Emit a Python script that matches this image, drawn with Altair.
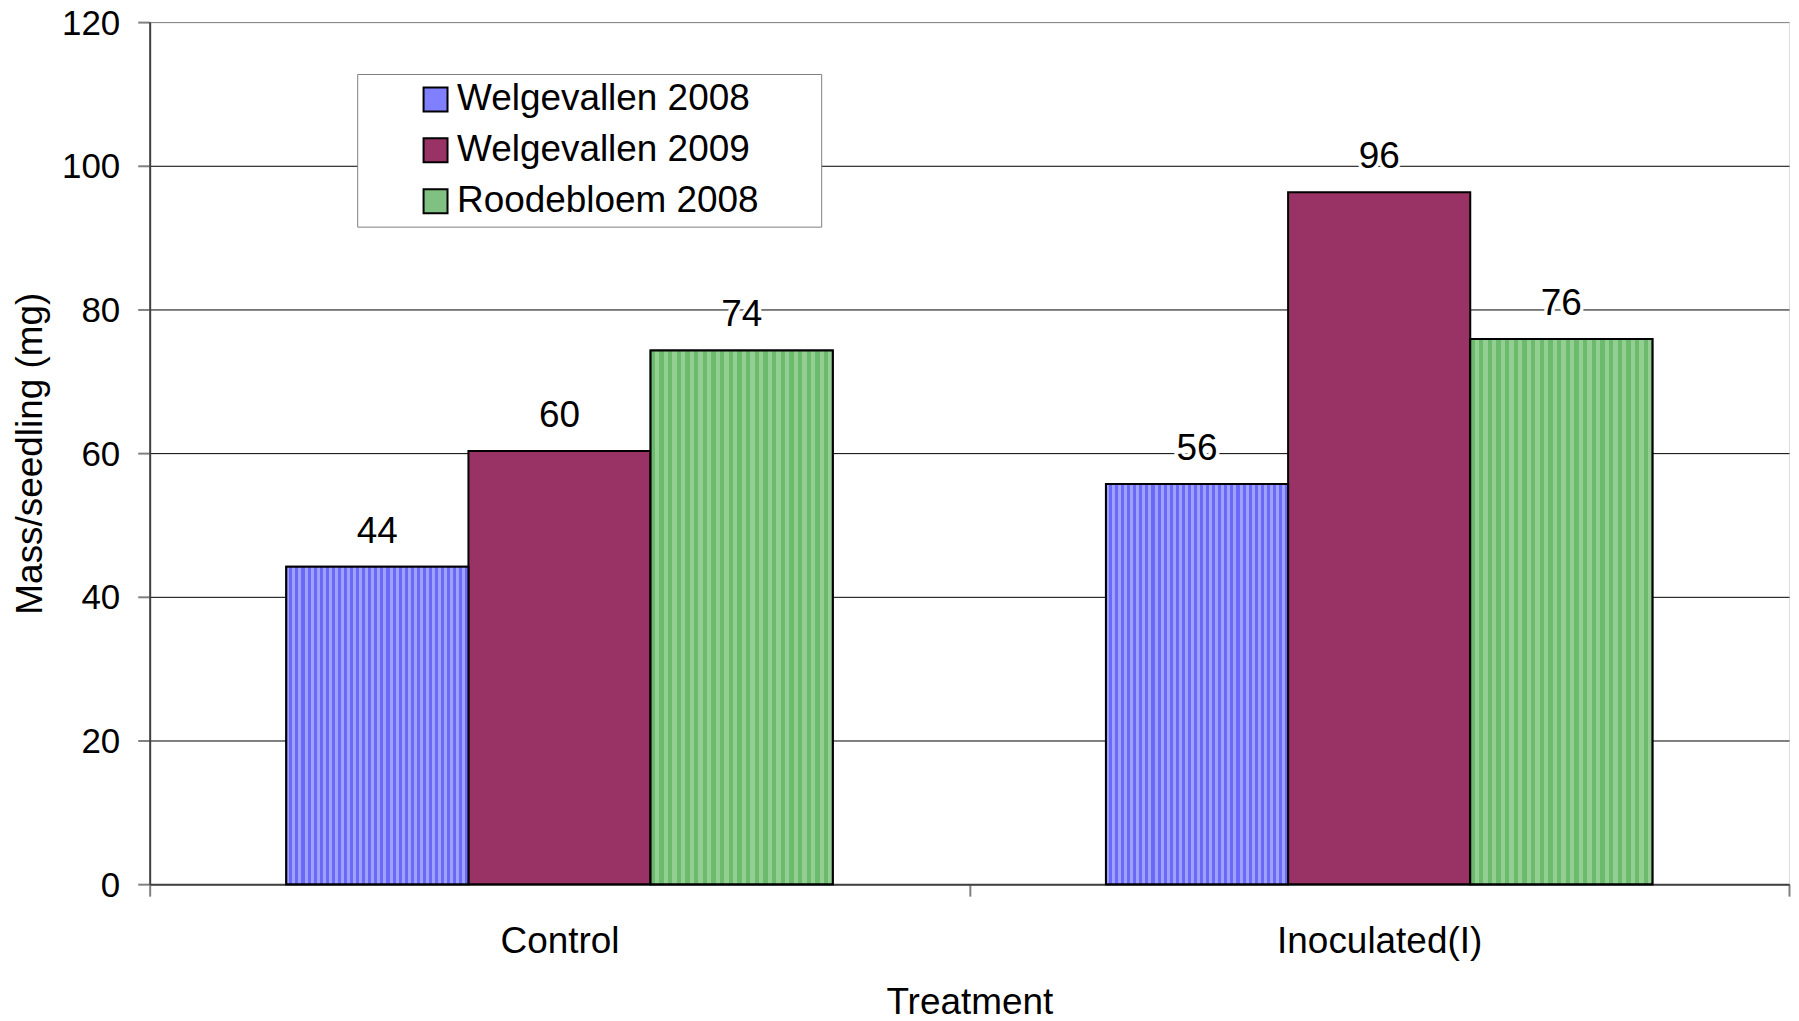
import altair as alt
import pandas as pd

treatments = ["Control", "Inoculated(I)"]
series = ["Welgevallen 2008", "Welgevallen 2009", "Roodebloem 2008"]
control_values = [44.2, 60.3, 74.3]
inoculated_values = [55.7, 96.3, 75.9]
y_ticks = [0, 20, 40, 60, 80, 100, 120]

rows = []
for s, c, i in zip(series, control_values, inoculated_values):
    rows.append({"Treatment": treatments[0], "Site": s, "Mass": c})
    rows.append({"Treatment": treatments[1], "Site": s, "Mass": i})
df = pd.DataFrame(rows)

FONT = "Liberation Sans"
solid = ["#8080FF", "#993366", "#80C080"]


def stripes(a, b, n):
    stops = []
    for k in range(n):
        o0 = k / n
        om = (k + 0.5) / n
        o1 = (k + 1) / n
        stops += [
            alt.GradientStop(offset=o0, color=a),
            alt.GradientStop(offset=om, color=a),
            alt.GradientStop(offset=om, color=b),
            alt.GradientStop(offset=min(o1, 1.0), color=b),
        ]
    return alt.LinearGradient(gradient="linear", stops=stops, x1=0, x2=1, y1=0, y2=0)


x_enc = alt.X(
    "Treatment:N",
    sort=treatments,
    scale=alt.Scale(domain=treatments, paddingInner=0, paddingOuter=0),
    axis=alt.Axis(
        title="Treatment",
        labelAngle=0,
        tickBand="extent",
        tickSize=12,
        tickColor="#808080",
        tickWidth=2,
        domainColor="#404040",
        domainWidth=2,
        labelFont=FONT,
        labelFontSize=37,
        labelColor="black",
        labelPadding=27,
        labelLimit=800,
        titleFont=FONT,
        titleFontSize=37,
        titleFontWeight="normal",
        titleColor="black",
        titlePadding=26,
        grid=False,
    ),
)
xoff_enc = alt.XOffset(
    "Site:N", sort=series, scale=alt.Scale(domain=series, paddingInner=0, paddingOuter=0.75)
)
y_enc = alt.Y(
    "Mass:Q",
    scale=alt.Scale(domain=[0, 120], nice=False),
    axis=alt.Axis(
        values=y_ticks,
        title="Mass/seedling (mg)",
        titleFont=FONT,
        titleFontSize=37,
        titleFontWeight="normal",
        titleColor="black",
        titlePadding=12,
        labelFont=FONT,
        labelFontSize=35,
        labelColor="black",
        labelPadding=18,
        labelOffset=1,
        tickSize=12,
        tickColor="#808080",
        tickWidth=2,
        domainColor="#404040",
        domainWidth=2,
        grid=True,
        gridColor={"condition": {"test": "datum.value === 120", "value": "#808080"}, "value": "#000000"},
        gridWidth=1,
    ),
)

base = alt.Chart(df)

bars = base.mark_bar(stroke="black", strokeWidth=2).encode(
    x=x_enc,
    xOffset=xoff_enc,
    y=y_enc,
    color=alt.Color(
        "Site:N",
        sort=series,
        scale=alt.Scale(domain=series, range=solid),
        legend=alt.Legend(
            title=None,
            orient="none",
            legendX=208,
            legendY=52,
            direction="vertical",
            symbolType="square",
            symbolSize=576,
            symbolStrokeColor="black",
            symbolStrokeWidth=2,
            labelFont=FONT,
            labelFontSize=37,
            labelColor="black",
            labelOffset=3,
            labelLimit=800,
            rowPadding=13,
            padding=7,
            symbolOffset=53,
            fillColor="white",
            strokeColor="#808080",
            labelExpr="datum.label + '\u2003\u2002\u200b'",
        ),
    ),
)

blue_over = base.mark_bar(
    stroke="black", strokeWidth=2, fill=stripes("#A0A0FF", "#6A6AF8", 30)
).encode(x=x_enc, xOffset=xoff_enc, y=y_enc).transform_filter(alt.datum.Site == series[0])

green_over = base.mark_bar(
    stroke="black", strokeWidth=2, fill=stripes("#6CBB6C", "#93CF93", 21)
).encode(x=x_enc, xOffset=xoff_enc, y=y_enc).transform_filter(alt.datum.Site == series[2])

halo = base.mark_text(
    dy=-24, baseline="alphabetic", font=FONT, fontSize=37, fill="white", stroke="white", strokeWidth=7
).encode(x=x_enc, xOffset=xoff_enc, y=y_enc, text=alt.Text("Mass:Q", format=".0f"))

labels = base.mark_text(
    dy=-24, baseline="alphabetic", font=FONT, fontSize=37, color="black"
).encode(x=x_enc, xOffset=xoff_enc, y=y_enc, text=alt.Text("Mass:Q", format=".0f"))

chart = (
    alt.layer(bars, blue_over, green_over, halo, labels)
    .properties(
        width=1643,
        height=864,
        autosize=alt.AutoSizeParams(type="none"),
        padding={"left": 142, "top": 13, "right": 2, "bottom": 136},
    )
    .configure_view(stroke="#808080", strokeWidth=2)
    .configure(background="white")
)

chart.save("out.html", embed_options={"renderer": "svg", "actions": False})
